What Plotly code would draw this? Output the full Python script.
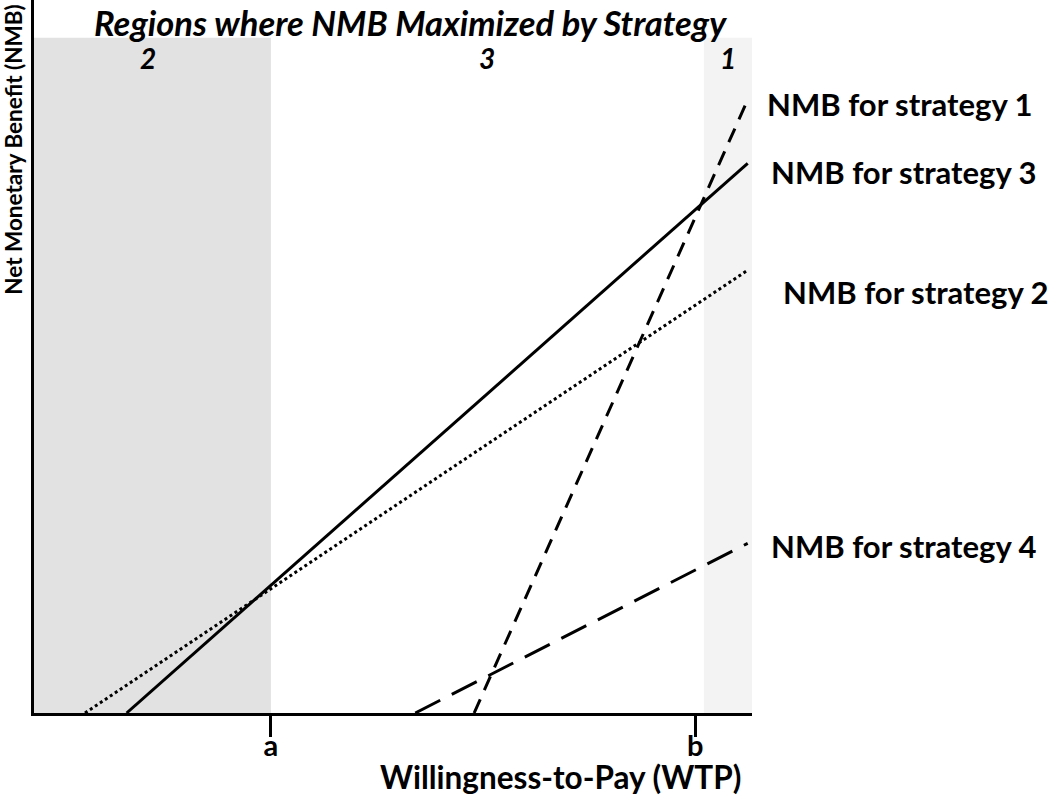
import plotly.graph_objects as go

# Willingness-to-pay (x) and NMB (y) endpoints, in chart units (0-100)
wtp_s1 = [61.3, 99.4]
nmb_s1 = [0, 86.0]
wtp_s2 = [7.1, 99.4]
nmb_s2 = [0, 62.1]
wtp_s3 = [12.9, 99.4]
nmb_s3 = [0, 77.1]
wtp_s4 = [53.1, 99.4]
nmb_s4 = [0, 23.8]

tick_vals = [33.0, 92.1]
tick_text = ['<b>a</b>', '<b>b</b>']

# regions where each strategy maximizes NMB: (start, end, label, fill)
regiones = [(0, 33.0, '2', '#e2e2e2'), (33.0, 93.3, '3', 'white'), (93.3, 100, '1', '#f3f3f3')]
region_top = 94.7

FUENTE = 'Lato, Roboto, sans-serif'

fig = go.Figure()

fig.add_trace(go.Scatter(x=wtp_s3, y=nmb_s3, mode='lines', name='NMB for strategy 3',
                         line=dict(color='black', width=3)))
fig.add_trace(go.Scatter(x=wtp_s2, y=nmb_s2, mode='lines', name='NMB for strategy 2',
                         line=dict(color='black', width=3, dash='3px,3px')))
fig.add_trace(go.Scatter(x=wtp_s1, y=nmb_s1, mode='lines', name='NMB for strategy 1',
                         line=dict(color='black', width=3, dash='15px,10px')))
fig.add_trace(go.Scatter(x=wtp_s4, y=nmb_s4, mode='lines', name='NMB for strategy 4',
                         line=dict(color='black', width=3, dash='28px,13px')))

for x0, x1, etiqueta, color in regiones:
    fig.add_shape(type='rect', xref='x', yref='y', x0=x0, x1=x1, y0=0, y1=region_top,
                  fillcolor=color, line_width=0, layer='below')
    fig.add_annotation(x=(x0 + x1) / 2 if etiqueta != '2' else 15.9, y=91.9,
                       text='<b><i>%s</i></b>' % etiqueta, showarrow=False,
                       font=dict(size=28, family=FUENTE, color='black'))

fig.add_annotation(x=52.5, y=96.9, text='<b><i>Regions where NMB Maximized by Strategy</i></b>',
                   showarrow=False, font=dict(size=34.5, family=FUENTE, color='black'))

# labels for each line on the right (paper coordinates, outside the plot area)
etiquetas = [(1.018, 0.854, 'NMB for strategy 1'), (1.0237, 0.759, 'NMB for strategy 3'),
             (1.0404, 0.590, 'NMB for strategy 2'), (1.0237, 0.234, 'NMB for strategy 4')]
for x, y, texto in etiquetas:
    fig.add_annotation(xref='paper', yref='paper', x=x, y=y, text='<b>%s</b>' % texto,
                       showarrow=False, xanchor='left', yanchor='middle',
                       font=dict(size=31, family=FUENTE, color='black'))

fig.add_annotation(xref='paper', yref='paper', x=0.733, y=-0.0898, xanchor='center',
                   yanchor='middle', text='<b>Willingness-to-Pay (WTP)</b>', showarrow=False,
                   font=dict(size=31.5, family=FUENTE, color='black'))
fig.add_annotation(xref='paper', yref='paper', x=-0.0279, y=0.79, textangle=-90,
                   xanchor='center', yanchor='middle',
                   text='<b>Net Monetary Benefit (NMB)</b>', showarrow=False,
                   font=dict(size=22.5, family=FUENTE, color='black'))

fig.update_xaxes(range=[0, 100], showgrid=False, zeroline=False, showline=True,
                 linecolor='black', linewidth=3, tickvals=tick_vals, ticktext=tick_text,
                 ticks='outside', ticklen=21, tickwidth=3, tickcolor='black',
                 ticklabelstandoff=-16,
                 tickfont=dict(size=29, family=FUENTE, color='black'))
fig.update_yaxes(range=[0, 100], showgrid=False, zeroline=False, showline=True,
                 linecolor='black', linewidth=3, showticklabels=False, ticks='')

fig.update_layout(width=1050, height=796, showlegend=False,
                  plot_bgcolor='white', paper_bgcolor='white',
                  margin=dict(l=34, r=298, t=0, b=83))

fig.write_html('out.html', config={'displayModeBar': False},
               post_script="document.body.style.margin='0';")
